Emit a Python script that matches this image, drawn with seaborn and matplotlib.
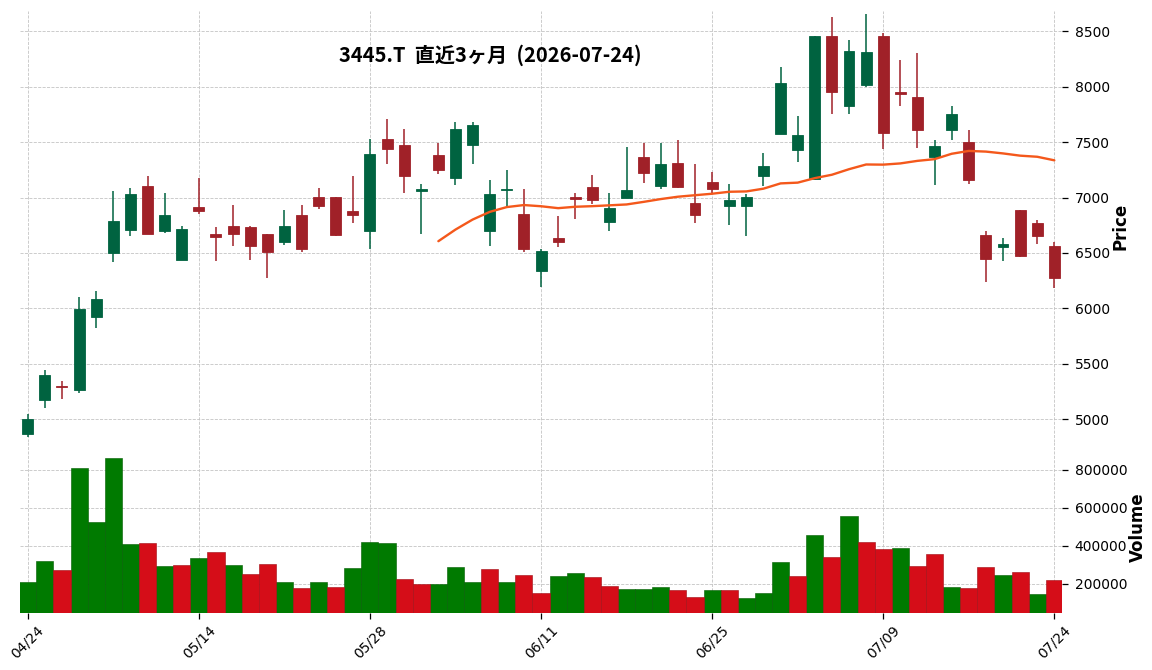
import numpy as np
import pandas as pd
import matplotlib
matplotlib.use("Agg")
import matplotlib.pyplot as plt
import matplotlib.colors as mcolors
import seaborn as sns

# ---------------- data ----------------
dates = ["04/24", "04/27", "04/28", "04/30", "05/01", "05/07", "05/08", "05/11", "05/12", "05/13",
         "05/14", "05/15", "05/18", "05/19", "05/20", "05/21", "05/22", "05/25", "05/26", "05/27",
         "05/28", "05/29", "06/01", "06/02", "06/03", "06/04", "06/05", "06/08", "06/09", "06/10",
         "06/11", "06/12", "06/15", "06/16", "06/17", "06/18", "06/19", "06/22", "06/23", "06/24",
         "06/25", "06/26", "06/29", "06/30", "07/01", "07/02", "07/03", "07/06", "07/07", "07/08",
         "07/09", "07/10", "07/13", "07/14", "07/15", "07/16", "07/17", "07/21", "07/22", "07/23",
         "07/24"]

opens = [4870, 5170, 5300, 5260, 5925, 6500, 6710, 7105, 6700, 6440,
         6915, 6670, 6745, 6735, 6670, 6600, 6840, 7005, 7005, 6880,
         6700, 7530, 7475, 7055, 7380, 7180, 7475, 6700, 7068, 6850,
         6340, 6635, 7005, 7095, 6780, 7000, 7365, 7105, 7310, 6950,
         7140, 6925, 6925, 7195, 7575, 7430, 7170, 8455, 7830, 8015,
         8455, 7950, 7905, 7370, 7610, 7500, 6665, 6550, 6885, 6770,
         6565]
highs = [5045, 5445, 5345, 6100, 6155, 7055, 7090, 7190, 7040, 6740,
         7180, 6730, 6930, 6740, 6675, 6885, 6930, 7090, 7005, 7190,
         7525, 7710, 7615, 7120, 7495, 7685, 7680, 7155, 7245, 7075,
         6540, 6830, 7040, 7200, 7040, 7455, 7490, 7490, 7515, 7300,
         7230, 7120, 7030, 7400, 8175, 7740, 8460, 8625, 8420, 8655,
         8480, 8240, 8300, 7515, 7825, 7605, 6700, 6635, 6890, 6800,
         6600]
lows = [4840, 5100, 5180, 5235, 5825, 6415, 6650, 6670, 6680, 6435,
        6850, 6425, 6560, 6435, 6275, 6570, 6505, 6895, 6655, 6770,
        6540, 7300, 7040, 6670, 7210, 7110, 7300, 6565, 6925, 6505,
        6190, 6550, 6805, 6940, 6695, 6995, 7130, 7075, 7085, 6770,
        7040, 6750, 6650, 7100, 7575, 7320, 7155, 7750, 7750, 8000,
        7435, 7825, 7445, 7110, 7515, 7120, 6235, 6430, 6460, 6580,
        6185]
closes = [5000, 5400, 5295, 5995, 6085, 6790, 7030, 6675, 6845, 6715,
          6875, 6640, 6675, 6565, 6505, 6745, 6540, 6925, 6665, 6845,
          7395, 7440, 7190, 7075, 7250, 7620, 7655, 7030, 7080, 6540,
          6520, 6600, 6990, 6980, 6905, 7070, 7225, 7305, 7095, 6845,
          7080, 6980, 7005, 7285, 8035, 7565, 8455, 7955, 8325, 8315,
          7585, 7930, 7605, 7465, 7755, 7160, 6450, 6580, 6475, 6655,
          6270]
volumes = [207000, 317500, 270200, 807000, 522800, 859600, 407000, 412300, 291200, 296500,
           333300, 364900, 296500, 249100, 301800, 207000, 175400, 207000, 180700, 280700,
           417500, 412300, 222800, 196500, 196500, 286000, 207000, 275400, 207000, 243900,
           149100, 238600, 254400, 233300, 186000, 170200, 170200, 180700, 164900, 128000,
           164900, 164900, 122800, 149100, 312300, 238600, 454400, 338600, 554400, 417500,
           380700, 386000, 291200, 354400, 180700, 175400, 286000, 243900, 259600, 143900,
           217500]

title = "3445.T  直近3ヶ月  (2026-07-24)"
ma_window = 25

# ---------------- styling ----------------
sns.set_theme(style="white")
plt.rcParams["font.family"] = ["DejaVu Sans", "Noto Sans CJK JP"]
plt.rcParams["text.color"] = "black"
plt.rcParams["axes.labelcolor"] = "black"

UP_C, DOWN_C = "#006340", "#A02128"
VUP_C, VDOWN_C = "#007a00", "#d50d18"
MA_C = "#f4581b"
GRID_KW = dict(linestyle="--", color="#c4c4c4", linewidth=0.6)

df = pd.DataFrame({"date": dates, "open": opens, "high": highs,
                   "low": lows, "close": closes, "volume": volumes})
df["idx"] = np.arange(len(df))
df["ma"] = df["close"].rolling(ma_window).mean()
df["cdir"] = np.where(df["close"] >= df["open"], "up", "down")
prev = df["close"].shift(1).fillna(df["close"])
df["vdir"] = np.where(df["close"] >= prev, "up", "down")

fig = plt.figure(figsize=(11.52, 6.70), dpi=100)
axp = fig.add_axes([0.0174, 0.3403, 0.9045, 0.6433])
axv = fig.add_axes([0.0174, 0.0851, 0.9045, 0.2552], sharex=axp)

# ---- candles ----
ccol = [UP_C if d == "up" else DOWN_C for d in df["cdir"]]
axp.vlines(df["idx"], df["low"], df["high"], colors=ccol, linewidth=1.1, zorder=2)
body_bottom = np.minimum(df["open"], df["close"])
body_h = np.maximum(np.abs(df["close"] - df["open"]), 8)
axp.bar(df["idx"], body_h, bottom=body_bottom, width=0.64, color=ccol,
        edgecolor=ccol, linewidth=0.6, zorder=3)

# ---- moving average ----
sns.lineplot(data=df.dropna(subset=["ma"]), x="idx", y="ma", ax=axp,
             color=MA_C, linewidth=1.7, zorder=4)

# ---- volume ----
sns.barplot(data=df, x="idx", y="volume", hue="vdir",
            palette={"up": VUP_C, "down": VDOWN_C}, dodge=False,
            width=1.0, errorbar=None, legend=False, ax=axv,
            native_scale=True, linewidth=0, saturation=1)
for p in axv.patches:
    fc = np.array(mcolors.to_rgb(p.get_facecolor()))
    p.set_edgecolor(tuple(fc * 0.75))
    p.set_linewidth(0.4)

# ---------------- axes ----------------
n = len(df)
axp.set_xlim(-0.45, n - 1 + 0.45)
axp.set_ylim(4795, 8683)
axv.set_ylim(45000, 946000)

tick_pos = list(range(0, n, 10))
axv.set_xticks(tick_pos)
axv.set_xticklabels([dates[i] for i in tick_pos], rotation=45, ha="center", fontsize=10)
axp.tick_params(axis="x", which="both", bottom=False, labelbottom=False)

axp.set_yticks(np.arange(5000, 8501, 500))
axv.set_yticks([200000, 400000, 600000, 800000])
axv.set_yticklabels(["200000", "400000", "600000", "800000"])

for ax in (axp, axv):
    for s in ax.spines.values():
        s.set_visible(False)
    ax.yaxis.tick_right()
    ax.yaxis.set_label_position("right")
    ax.tick_params(axis="y", direction="out", length=4, width=0.9, colors="black",
                   labelsize=10, pad=5, right=True, left=False)
    ax.grid(True, which="major", axis="both", **GRID_KW)
    ax.set_axisbelow(True)
    ax.set_xlabel("")
axv.tick_params(axis="x", direction="out", length=4, width=0.9, colors="black",
                labelsize=10, bottom=True, pad=3)

axp.set_ylabel("Price", fontsize=12, fontweight="bold", labelpad=1)
axv.set_ylabel("Volume", fontsize=12, fontweight="bold", labelpad=1)

fig.text(0.426, 0.918, title, ha="center", va="center", fontsize=14.5,
         fontweight="bold", family=["Noto Sans CJK JP", "DejaVu Sans"])

fig.savefig("out.png", dpi=100)
